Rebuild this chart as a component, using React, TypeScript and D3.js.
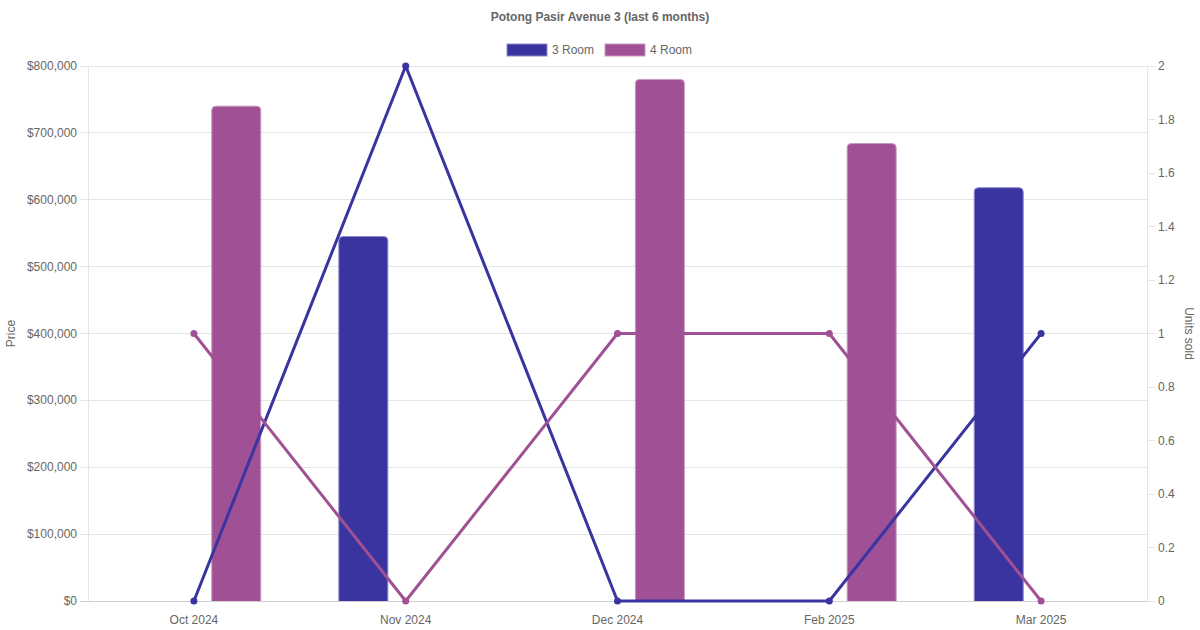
import * as d3 from 'd3';
import { useEffect, useRef } from 'react';

const months = ['Oct 2024', 'Nov 2024', 'Dec 2024', 'Feb 2025', 'Mar 2025'];
const seriesNames = ['3 Room', '4 Room'];
const priceThreeRoom: (number | null)[] = [null, 545000, null, null, 618000];
const priceFourRoom: (number | null)[] = [740000, null, 780000, 684000, null];
const unitsThreeRoom = [0, 2, 0, 0, 1];
const unitsFourRoom = [1, 0, 1, 1, 0];
const priceTicks = [0, 100000, 200000, 300000, 400000, 500000, 600000, 700000, 800000];
const unitTicks = [0, 0.2, 0.4, 0.6, 0.8, 1, 1.2, 1.4, 1.6, 1.8, 2];

const COLORS = ['#3a34a0', '#a05195'];
const EDGE = ['#8d8acb', '#c999c1'];
const FONT = '"Liberation Sans", Arial, Helvetica, sans-serif';

export default function App() {
  const ref = useRef<SVGSVGElement | null>(null);

  useEffect(() => {
    const svg = d3.select(ref.current);
    svg.selectAll('*').remove();
    const width = 1200;
    const height = 630;
    const margin = { top: 66, right: 53, bottom: 29, left: 88 };
    const innerW = width - margin.left - margin.right;
    const innerH = height - margin.top - margin.bottom;

    svg.append('rect').attr('width', width).attr('height', height).attr('fill', '#fff');

    // title + legend
    svg.append('text')
      .attr('x', width / 2).attr('y', 21)
      .attr('text-anchor', 'middle')
      .attr('font-family', FONT).attr('font-size', 12).attr('font-weight', 'bold')
      .attr('fill', '#666')
      .text('Potong Pasir Avenue 3 (last 6 months)');

    const legendX = [507, 605];
    seriesNames.forEach((name, i) => {
      svg.append('rect')
        .attr('x', legendX[i]).attr('y', 44).attr('width', 40).attr('height', 12)
        .attr('fill', COLORS[i]).attr('stroke', EDGE[i]).attr('stroke-width', 1);
      svg.append('text')
        .attr('x', legendX[i] + 45).attr('y', 54)
        .attr('font-family', FONT).attr('font-size', 12).attr('fill', '#666')
        .text(name);
    });

    const g = svg.append('g').attr('transform', `translate(${margin.left},${margin.top})`);

    const x = d3.scaleBand<string>().domain(months).range([0, innerW]).padding(0);
    const bw = x.bandwidth();
    const x1 = d3.scaleBand<string>().domain(seriesNames).range([bw * 0.1, bw * 0.9]).padding(0);
    const barW = 49;
    const yPrice = d3.scaleLinear().domain([0, 800000]).range([innerH, 0]);
    const yUnits = d3.scaleLinear().domain([0, 2]).range([innerH, 0]);

    // grid
    g.append('g')
      .selectAll('line')
      .data(priceTicks)
      .enter()
      .append('line')
      .attr('x1', -8).attr('x2', innerW)
      .attr('y1', (d) => yPrice(d)).attr('y2', (d) => yPrice(d))
      .attr('stroke', (d) => (d === 0 ? '#cfcfcf' : '#e5e5e5'))
      .attr('stroke-width', 1)
      .attr('shape-rendering', 'crispEdges');

    g.append('line')
      .attr('x1', 0).attr('x2', 0).attr('y1', 0).attr('y2', innerH)
      .attr('stroke', '#e5e5e5').attr('shape-rendering', 'crispEdges');
    g.append('line')
      .attr('x1', innerW).attr('x2', innerW).attr('y1', 0).attr('y2', innerH)
      .attr('stroke', '#e5e5e5').attr('shape-rendering', 'crispEdges');

    // left axis labels
    const fmtPrice = (v: number) => '$' + d3.format(',')(v);
    g.append('g')
      .selectAll('text')
      .data(priceTicks)
      .enter()
      .append('text')
      .attr('x', -11).attr('y', (d) => yPrice(d) + 4)
      .attr('text-anchor', 'end')
      .attr('font-family', FONT).attr('font-size', 12).attr('fill', '#666')
      .text((d) => fmtPrice(d));

    // right axis ticks + labels
    const ra = g.append('g').attr('transform', `translate(${innerW},0)`);
    ra.selectAll('line')
      .data(unitTicks)
      .enter()
      .append('line')
      .attr('x1', 0).attr('x2', 8)
      .attr('y1', (d) => yUnits(d)).attr('y2', (d) => yUnits(d))
      .attr('stroke', '#e5e5e5').attr('shape-rendering', 'crispEdges');
    ra.selectAll('text')
      .data(unitTicks)
      .enter()
      .append('text')
      .attr('x', 11).attr('y', (d) => yUnits(d) + 4)
      .attr('font-family', FONT).attr('font-size', 12).attr('fill', '#666')
      .text((d) => d3.format('~g')(d));

    // axis titles
    svg.append('text')
      .attr('transform', `translate(15,${margin.top + innerH / 2}) rotate(-90)`)
      .attr('text-anchor', 'middle')
      .attr('font-family', FONT).attr('font-size', 12).attr('fill', '#666')
      .text('Price');
    svg.append('text')
      .attr('transform', `translate(1185,${margin.top + innerH / 2}) rotate(90)`)
      .attr('text-anchor', 'middle')
      .attr('font-family', FONT).attr('font-size', 12).attr('fill', '#666')
      .text('Units sold');

    // x labels
    g.append('g')
      .selectAll('text')
      .data(months)
      .enter()
      .append('text')
      .attr('x', (d) => x(d)! + bw / 2).attr('y', innerH + 23)
      .attr('text-anchor', 'middle')
      .attr('font-family', FONT).attr('font-size', 12).attr('fill', '#666')
      .text((d) => d);

    // bars
    const priceSeries = [priceThreeRoom, priceFourRoom];
    const r = 4;
    seriesNames.forEach((name, si) => {
      const rows = months
        .map((m, i) => ({ m, v: priceSeries[si][i] }))
        .filter((d) => d.v != null) as { m: string; v: number }[];
      g.append('g')
        .selectAll('path')
        .data(rows)
        .enter()
        .append('path')
        .attr('d', (d) => {
          const cx = x(d.m)! + x1(name)! + x1.bandwidth() / 2;
          const x0 = cx - barW / 2;
          const x2 = cx + barW / 2;
          const yt = yPrice(d.v);
          const yb = yPrice(0);
          return `M${x0},${yb}V${yt + r}Q${x0},${yt} ${x0 + r},${yt}H${x2 - r}Q${x2},${yt} ${x2},${yt + r}V${yb}`;
        })
        .attr('fill', COLORS[si])
        .attr('stroke', EDGE[si])
        .attr('stroke-width', 1);
    });

    // lines
    const unitSeries = [unitsThreeRoom, unitsFourRoom];
    const line = d3.line<number>()
      .x((_, i) => x(months[i])! + bw / 2)
      .y((d) => yUnits(d));
    unitSeries.forEach((vals, si) => {
      g.append('path')
        .datum(vals)
        .attr('d', line)
        .attr('fill', 'none')
        .attr('stroke', COLORS[si])
        .attr('stroke-width', 3)
        .attr('stroke-linejoin', 'round');
      g.append('g')
        .selectAll('circle')
        .data(vals)
        .enter()
        .append('circle')
        .attr('cx', (_, i) => x(months[i])! + bw / 2)
        .attr('cy', (d) => yUnits(d))
        .attr('r', 3.5)
        .attr('fill', COLORS[si]);
    });
  }, []);

  return (
    <div style={{ position: 'absolute', left: 0, top: 0, width: 1200, height: 630 }}>
      <svg ref={ref} width={1200} height={630} role="img" aria-label="Potong Pasir Avenue 3 chart" />
    </div>
  );
}
